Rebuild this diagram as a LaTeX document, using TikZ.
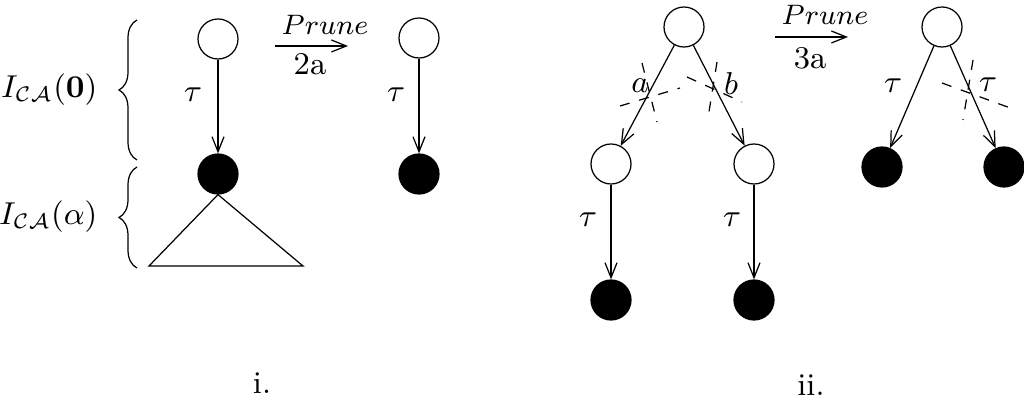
\documentclass[tikz,border=0pt]{standalone}
\usetikzlibrary{arrows.meta,decorations.pathreplacing}
\begin{document}
\begin{tikzpicture}[x=0.1mm,y=-0.1mm,
  every node/.style={font=\small},
  wnode/.style={circle,draw,line width=0.35pt,minimum size=4mm,inner sep=0pt},
  bnode/.style={circle,draw,fill=black,line width=0.35pt,minimum size=4mm,inner sep=0pt},
  edge/.style={line width=0.35pt,-{Straight Barb[length=1.5mm,width=1.2mm]}},
  cut/.style={line width=0.35pt,dash pattern=on 1mm off 1mm},
  brc/.style={decorate,decoration={brace,amplitude=1.8mm},line width=0.35pt},
  lbl/.style={inner sep=0pt},
  prn/.style={inner sep=0pt,font=\footnotesize}]
\useasboundingbox (0,0) rectangle (1024,413);
% panel i
\node[wnode] (a1) at (218,39) {};
\node[bnode] (a2) at (218,174) {};
\draw[edge] (a1) -- (a2);
\node[lbl] (t1) at (193,95) {$\tau$};
\coordinate (tl) at (149,266);
\coordinate (tr) at (303,266);
\draw[line width=0.35pt] (a2.south) -- (tl) -- (tr) -- cycle;
\coordinate (b1s) at (137,160);
\coordinate (b1e) at (137,20);
\coordinate (b2s) at (137,268);
\coordinate (b2e) at (137,167);
\draw[brc] (b1s) -- (b1e);
\draw[brc] (b2s) -- (b2e);
\node[lbl,anchor=east] (L1) at (98,90) {$I_{\mathcal{CA}}(\mathbf{0})$};
\node[lbl,anchor=east] (L2) at (98,217) {$I_{\mathcal{CA}}(\alpha)$};
\coordinate (p1s) at (275,46);
\coordinate (p1e) at (348,46);
\draw[edge] (p1s) -- (p1e);
\node[prn,anchor=base west] (pr1) at (281,35) {$Prune$};
\node[lbl] (n1) at (310,64) {2a};
\node[wnode] (c1) at (419,38) {};
\node[bnode] (c2) at (419,174) {};
\draw[edge] (c1) -- (c2);
\node[lbl] (t2) at (396,95) {$\tau$};
\node (li) at (262,383) {i.};
% panel ii
\node[wnode] (r) at (684,27) {};
\node[wnode] (l1) at (611,164) {};
\node[wnode] (r1) at (754,164) {};
\node[bnode] (l2) at (611,300) {};
\node[bnode] (r2) at (754,300) {};
\draw[edge] (r) -- (l1);
\draw[edge] (r) -- (r1);
\node[lbl] (la) at (640,86) {$a$};
\node[lbl] (lb) at (731,84) {$b$};
\draw[edge] (l1) -- (l2);
\draw[edge] (r1) -- (r2);
\node[lbl] (t3) at (588,220) {$\tau$};
\node[lbl] (t4) at (732,220) {$\tau$};
\coordinate (x1a) at (642,63); \coordinate (x1b) at (657,122);
\coordinate (x2a) at (620,106); \coordinate (x2b) at (680,88);
\coordinate (x3a) at (717,62); \coordinate (x3b) at (708,118);
\coordinate (x4a) at (687,77); \coordinate (x4b) at (742,102);
\draw[cut] (x1a) -- (x1b);
\draw[cut] (x2a) -- (x2b);
\draw[cut] (x3a) -- (x3b);
\draw[cut] (x4a) -- (x4b);
\coordinate (p2s) at (775,37);
\coordinate (p2e) at (848,37);
\draw[edge] (p2s) -- (p2e);
\node[prn,anchor=base west] (pr2) at (781,25) {$Prune$};
\node[lbl] (n2) at (810,58) {3a};
\node[wnode] (s) at (942,27) {};
\node[bnode] (s1) at (882,167) {};
\node[bnode] (s2) at (1004,167) {};
\draw[edge] (s) -- (s1);
\draw[edge] (s) -- (s2);
\node[lbl] (t5) at (893,86) {$\tau$};
\node[lbl] (t6) at (988,85) {$\tau$};
\coordinate (y1a) at (973,60); \coordinate (y1b) at (963,120);
\coordinate (y2a) at (942,83); \coordinate (y2b) at (1013,109);
\draw[cut] (y1a) -- (y1b);
\draw[cut] (y2a) -- (y2b);
\node (lii) at (811,385) {ii.};
\end{tikzpicture}
\end{document}
